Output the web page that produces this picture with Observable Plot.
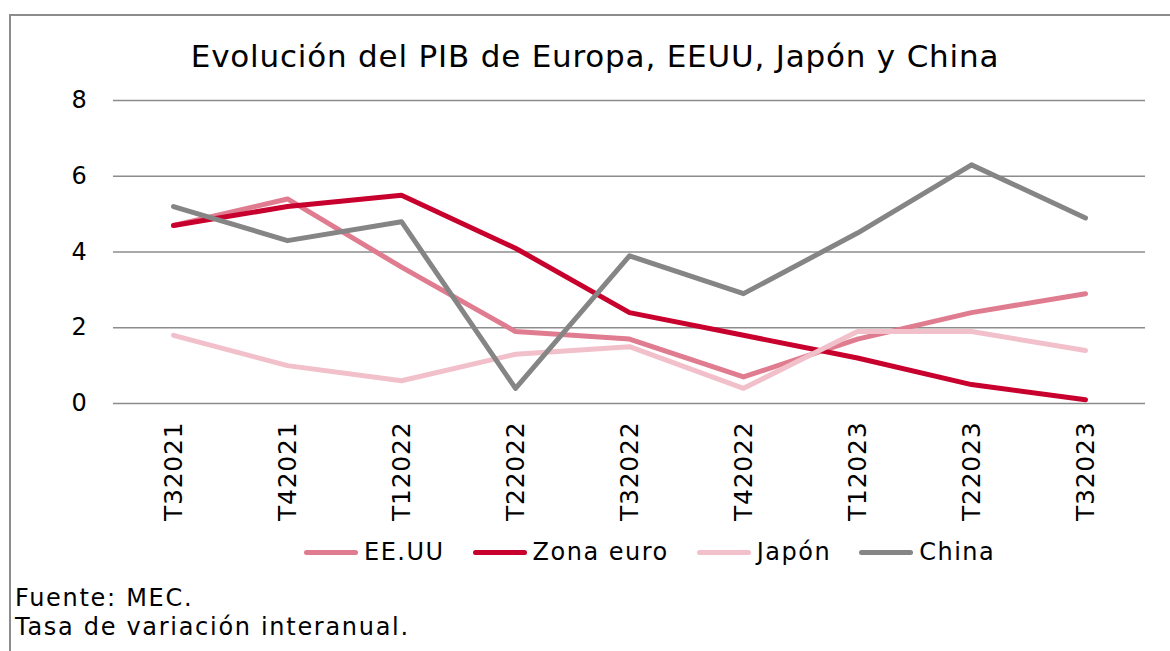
<!DOCTYPE html>
<html>
<head>
<meta charset="utf-8">
<script src="https://cdn.jsdelivr.net/npm/d3@7"></script>
<script src="https://cdn.jsdelivr.net/npm/@observablehq/plot@0.6"></script>
<style>
  html, body { margin: 0; padding: 0; background: #fff; }
  body { width: 1170px; height: 651px; overflow: hidden; position: relative; font-family: "DejaVu Sans", Verdana, sans-serif; color: #000; }
  #frame { position: absolute; left: 9px; top: 14px; width: 1300px; height: 800px; border-left: 2px solid #8c8c8c; border-top: 2px solid #8c8c8c; }
  #title { position: absolute; left: 0; width: 1190px; top: 36px; text-align: center; font-size: 31px; letter-spacing: 0.8px; line-height: 40px; white-space: nowrap; }
  #chart { position: absolute; left: 0; top: 80px; }
  #chart svg text { letter-spacing: 0.8px; }
  #legend { position: absolute; left: 304px; top: 536px; display: flex; align-items: center; font-size: 24px; letter-spacing: 1.5px; line-height: 32px; white-space: nowrap; }
  .item { display: flex; align-items: center; margin-right: 28px; }
  .swatch { display: inline-block; width: 54px; height: 5px; border-radius: 3px; margin-right: 6px; }
  #caption { position: absolute; left: 15px; top: 584px; font-size: 24px; letter-spacing: 1.7px; line-height: 29px; white-space: nowrap; }
</style>
</head>
<body>
<div id="frame"></div>
<div id="title">Evolución del PIB de Europa, EEUU, Japón y China</div>
<div id="chart"></div>
<div id="legend"></div>
<div id="caption">Fuente: MEC.<br>Tasa de variación interanual.</div>
<script>
const quarters = ["T32021", "T42021", "T12022", "T22022", "T32022", "T42022", "T12023", "T22023", "T32023"];
const seriesNames = ["EE.UU", "Zona euro", "Japón", "China"];
const seriesColors = ["#e07c90", "#c8002d", "#f2c0ca", "#858585"];
const eeuu = [4.7, 5.4, 3.6, 1.9, 1.7, 0.7, 1.7, 2.4, 2.9];
const zonaEuro = [4.7, 5.2, 5.5, 4.1, 2.4, 1.8, 1.2, 0.5, 0.1];
const japon = [1.8, 1.0, 0.6, 1.3, 1.5, 0.4, 1.9, 1.9, 1.4];
const china = [5.2, 4.3, 4.8, 0.4, 3.9, 2.9, 4.5, 6.3, 4.9];
const yTicks = [0, 2, 4, 6, 8];

const seriesValues = [eeuu, zonaEuro, japon, china];
const data = [];
seriesNames.forEach((name, i) => {
  quarters.forEach((q, j) => data.push({ series: name, quarter: q, value: seriesValues[i][j] }));
});

const plot = Plot.plot({
  width: 1170,
  height: 453,
  marginTop: 20,
  marginBottom: 130,
  marginLeft: 113,
  marginRight: 25,
  style: { fontFamily: "DejaVu Sans, Verdana, sans-serif", fontSize: "24px", color: "#000", background: "transparent", overflow: "visible" },
  x: { type: "point", domain: quarters, padding: 0.5 },
  y: { domain: [0, 8] },
  color: { domain: seriesNames, range: seriesColors },
  marks: [
    Plot.ruleY(yTicks, { stroke: "#8c8c8c", strokeWidth: 1.6 }),
    Plot.axisY(yTicks, { tickSize: 0, tickPadding: 26, fontSize: 24, label: null, fill: "#000" }),
    Plot.axisX({ tickSize: 0, tickPadding: 18, tickRotate: -90, fontSize: 25, label: null, fill: "#000" }),
    ...seriesNames.map((name) =>
      Plot.line(data.filter(d => d.series === name), {
        x: "quarter", y: "value", stroke: "series",
        strokeWidth: 5, strokeLinecap: "round", strokeLinejoin: "round"
      })
    )
  ]
});
document.getElementById("chart").appendChild(plot);

const legend = document.getElementById("legend");
seriesNames.forEach((name, i) => {
  const item = document.createElement("div");
  item.className = "item";
  const sw = document.createElement("span");
  sw.className = "swatch";
  sw.style.background = seriesColors[i];
  const label = document.createElement("span");
  label.textContent = name;
  item.appendChild(sw);
  item.appendChild(label);
  legend.appendChild(item);
});
</script>
</body>
</html>
